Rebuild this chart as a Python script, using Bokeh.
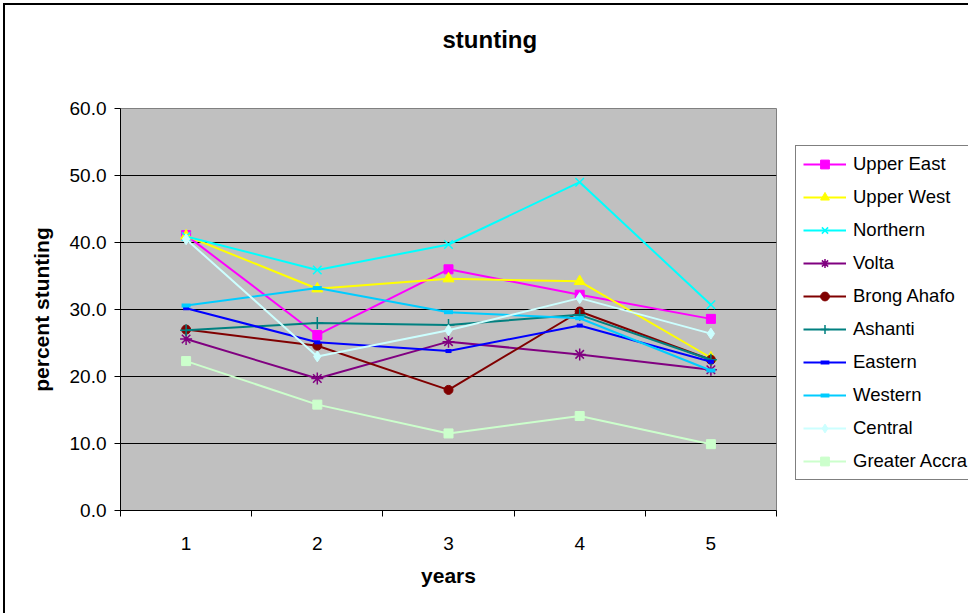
from bokeh.plotting import figure
from bokeh.layouts import column, row
from bokeh.models import (Range1d, FixedTicker, NumeralTickFormatter, Legend, LegendItem, Title)
from bokeh.embed import file_html
from bokeh.resources import INLINE

years = [1, 2, 3, 4, 5]
upper_east = [41.1, 26.2, 36.0, 32.2, 28.6]
upper_west = [41.0, 33.1, 34.6, 34.2, 22.8]
northern = [40.9, 35.9, 39.7, 49.0, 30.7]
volta = [25.6, 19.7, 25.2, 23.3, 21.0]
brong_ahafo = [27.0, 24.6, 18.0, 29.7, 22.5]
ashanti = [26.9, 28.0, 27.7, 29.2, 22.5]
eastern = [30.2, 25.1, 23.8, 27.6, 22.2]
western = [30.6, 33.2, 29.6, 28.7, 20.9]
central = [40.5, 23.0, 26.9, 31.7, 26.4]
greater_accra = [22.3, 15.8, 11.5, 14.1, 9.9]

y_ticks = [0, 10, 20, 30, 40, 50, 60]
x_bounds = [0.5, 1.5, 2.5, 3.5, 4.5, 5.5]

series = [
    ("Upper East", upper_east, "#FF00FF", "square", 9, 1),
    ("Upper West", upper_west, "#FFFF00", "triangle", 11, 1),
    ("Northern", northern, "#00FFFF", "x", 12, 1.5),
    ("Volta", volta, "#800080", "asterisk", 12, 1.5),
    ("Brong Ahafo", brong_ahafo, "#800000", "circle", 9, 1),
    ("Ashanti", ashanti, "#008080", "cross", 12, 1.5),
    ("Eastern", eastern, "#0000FF", "dash", 6, 4),
    ("Western", western, "#00CCFF", "dash", 9, 4),
    ("Central", central, "#CCFFFF", "diamond", 11, 1),
    ("Greater Accra", greater_accra, "#CCFFCC", "square", 9, 1),
]

FONT = "Liberation Sans"

p = figure(width=789, height=610, output_backend="svg", toolbar_location=None,
           x_range=Range1d(0.5, 5.5), y_range=Range1d(0, 60),
           min_border_left=115, min_border_right=18, min_border_top=103, min_border_bottom=103,
           background_fill_color="#C0C0C0", border_fill_color="white")
p.outline_line_color = "#808080"
p.outline_line_width = 1
p.title.text = ""

# spacer between frame and title, then the title itself (stacked outward from the frame)
p.add_layout(Title(text=" ", text_font=FONT, text_font_size="10px", standoff=43), "above")
p.add_layout(Title(text="stunting", align="left", offset=322, standoff=0, text_font=FONT,
                   text_font_size="24px", text_font_style="bold", text_color="black"), "above")

p.xgrid.visible = False
p.ygrid.ticker = FixedTicker(ticks=y_ticks[1:-1])
p.ygrid.grid_line_color = "black"
p.ygrid.grid_line_width = 1

xa = p.xaxis[0]
xa.ticker = FixedTicker(ticks=years, minor_ticks=x_bounds)
xa.major_tick_line_color = None
xa.major_tick_out = 0
xa.major_tick_in = 0
xa.minor_tick_out = 6
xa.minor_tick_in = 0
xa.minor_tick_line_color = "black"
xa.axis_line_color = "black"
xa.major_label_standoff = 20
xa.major_label_text_font = FONT
xa.major_label_text_font_size = "19px"
xa.major_label_text_color = "black"
xa.axis_label = "years"
xa.axis_label_text_font = FONT
xa.axis_label_text_font_size = "21px"
xa.axis_label_text_font_style = "bold"
xa.axis_label_text_color = "black"
xa.axis_label_standoff = 11

ya = p.yaxis[0]
ya.ticker = FixedTicker(ticks=y_ticks)
ya.formatter = NumeralTickFormatter(format="0.0")
ya.major_tick_out = 6
ya.major_tick_in = 0
ya.minor_tick_line_color = None
ya.major_tick_line_color = "black"
ya.axis_line_color = "black"
ya.major_label_standoff = 8
ya.major_label_text_font = FONT
ya.major_label_text_font_size = "19px"
ya.major_label_text_color = "black"
ya.axis_label = "percent stunting"
ya.axis_label_text_font = FONT
ya.axis_label_text_font_size = "21px"
ya.axis_label_text_font_style = "bold"
ya.axis_label_text_color = "black"
ya.axis_label_standoff = 14

# legend panel: a frameless figure holding the legend (its swatch renderers lie off-view)
pl = figure(width=176, height=610, output_backend="svg", toolbar_location=None,
            x_range=Range1d(100, 101), y_range=Range1d(100, 101),
            x_axis_type=None, y_axis_type=None,
            min_border_left=0, min_border_right=0, min_border_top=0, min_border_bottom=0,
            background_fill_color="white", border_fill_color="white")
pl.outline_line_color = None
pl.xgrid.visible = False
pl.ygrid.visible = False

items = []
for name, vals, color, marker, size, lw in series:
    fill = color if marker not in ("x", "asterisk", "cross", "dash") else None
    p.line(years, vals, line_color=color, line_width=2)
    p.scatter(years, vals, marker=marker, size=size, fill_color=fill,
              line_color=color, line_width=lw)
    lr = pl.line(years, vals, line_color=color, line_width=2)
    sr = pl.scatter(years, vals, marker=marker, size=size, fill_color=fill,
                    line_color=color, line_width=lw)
    items.append(LegendItem(label=name, renderers=[lr, sr]))

legend = Legend(items=items, location=(1, 30), margin=0, padding=7, spacing=11,
                glyph_width=43, glyph_height=22, label_height=22, label_standoff=7,
                label_text_font=FONT, label_text_font_size="18.5px", label_text_color="black",
                border_line_color="black", border_line_width=1, background_fill_color="white",
                background_fill_alpha=1)
pl.add_layout(legend, "center")

page = column(row(p, pl, spacing=0), width=965, height=610, spacing=0,
              styles={"overflow": "hidden", "margin-left": "3px", "margin-top": "3px",
                      "border-left": "2px solid black", "border-top": "2px solid black"})

open("out.html", "w").write(file_html(page, INLINE))
